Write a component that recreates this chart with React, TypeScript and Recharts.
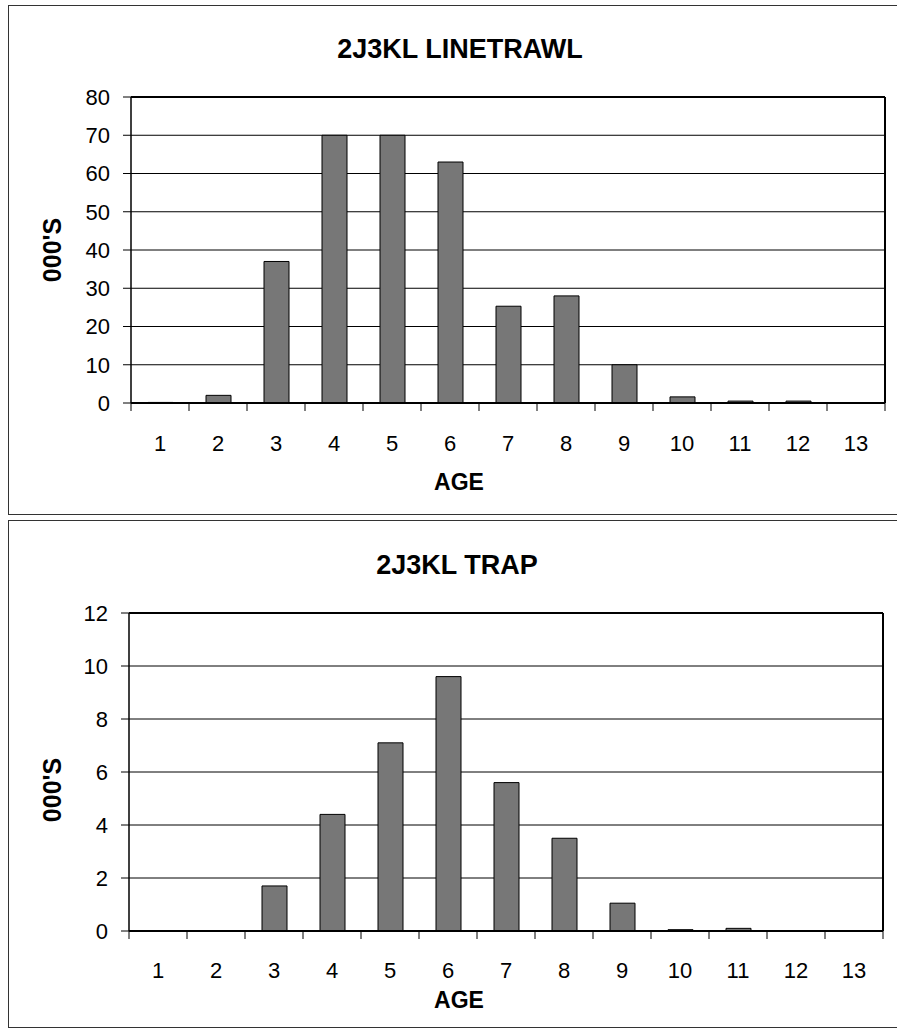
import React from "react";
import {
  BarChart,
  Bar,
  XAxis,
  YAxis,
  CartesianGrid,
  ReferenceLine,
} from "recharts";

const ages = ["1", "2", "3", "4", "5", "6", "7", "8", "9", "10", "11", "12", "13"];
const linetrawl = [0.15, 2, 37, 70, 70, 63, 25.3, 28, 10, 1.6, 0.5, 0.5, 0];
const trap = [0, 0, 1.7, 4.4, 7.1, 9.6, 5.6, 3.5, 1.05, 0.05, 0.1, 0, 0];
const linetrawlTicks = [0, 10, 20, 30, 40, 50, 60, 70, 80];
const trapTicks = [0, 2, 4, 6, 8, 10, 12];

const FONT = "'Liberation Sans', Arial, Helvetica, sans-serif";

const toRows = (values: number[]) =>
  ages.map((age, i) => ({ age, value: values[i] }));

// x ticks sit between the categories, labels under the centres
function AgeTick(props: any) {
  const { x, y, payload, labelGap } = props;
  const half = payload && payload.offset ? payload.offset : 29;
  const last = payload.value === ages[ages.length - 1];
  return (
    <g>
      <line x1={x - half} x2={x - half} y1={y} y2={y + 8} stroke="#000" strokeWidth={1} />
      {last && (
        <line x1={x + half} x2={x + half} y1={y} y2={y + 8} stroke="#000" strokeWidth={1} />
      )}
      <text
        x={x}
        y={y + labelGap}
        textAnchor="middle"
        dominantBaseline="central"
        fontFamily={FONT}
        fontSize={22}
        fill="#000"
      >
        {payload.value}
      </text>
    </g>
  );
}

type PanelProps = {
  title: string;
  values: number[];
  ticks: number[];
  top: number;
  height: number;
  marginTop: number;
  axisWidth: number;
  marginRight: number;
  xAxisHeight: number;
  marginBottom: number;
  labelGap: number;
  titleY: number;
  titleX: number;
  yLabelY: number;
  ageY: number;
};

function Panel(p: PanelProps) {
  const max = p.ticks[p.ticks.length - 1];
  return (
    <>
      <div
        style={{
          position: "absolute",
          left: p.titleX,
          top: p.titleY,
          transform: "translate(-50%, -50%)",
          fontFamily: FONT,
          fontWeight: "bold",
          fontSize: 27,
          whiteSpace: "nowrap",
        }}
      >
        {p.title}
      </div>
      <div
        style={{
          position: "absolute",
          left: 52,
          top: p.yLabelY,
          transform: "translate(-50%, -50%) rotate(-90deg)",
          fontFamily: FONT,
          fontWeight: "bold",
          fontSize: 25,
          whiteSpace: "nowrap",
        }}
      >
        000'S
      </div>
      <div
        style={{
          position: "absolute",
          left: 459,
          top: p.ageY,
          transform: "translate(-50%, -50%)",
          fontFamily: FONT,
          fontWeight: "bold",
          fontSize: 23,
        }}
      >
        AGE
      </div>
      <div style={{ position: "absolute", left: 0, top: p.top }}>
        <BarChart
          width={897}
          height={p.height}
          data={toRows(p.values)}
          barSize={25}
          margin={{ top: p.marginTop, right: p.marginRight, left: 0, bottom: p.marginBottom }}
        >
          <CartesianGrid vertical={false} stroke="#000" strokeWidth={1} />
          <XAxis
            dataKey="age"
            height={p.xAxisHeight}
            axisLine={{ stroke: "#000", strokeWidth: 2 }}
            tickLine={false}
            tickSize={0}
            tickMargin={0}
            interval={0}
            tick={<AgeTick labelGap={p.labelGap} />}
          />
          <YAxis
            width={p.axisWidth}
            domain={[0, max]}
            ticks={p.ticks}
            interval={0}
            axisLine={{ stroke: "#000", strokeWidth: 1.5 }}
            tickLine={{ stroke: "#000" }}
            tickSize={8}
            tickMargin={13}
            tick={{ fontFamily: FONT, fontSize: 22, fill: "#000" }}
          />
          <YAxis
            yAxisId="frame"
            orientation="right"
            width={1}
            tick={false}
            tickLine={false}
            axisLine={{ stroke: "#000", strokeWidth: 2 }}
          />
          <ReferenceLine y={max} stroke="#000" strokeWidth={2} />
          <Bar
            dataKey="value"
            fill="#777777"
            stroke="#000"
            strokeWidth={1}
            isAnimationActive={false}
          />
        </BarChart>
      </div>
    </>
  );
}

export default function App() {
  return (
    <div
      style={{
        position: "fixed",
        left: 0,
        top: 0,
        width: 897,
        height: 1031,
        background: "#fff",
        overflow: "hidden",
      }}
    >
      <div
        style={{
          position: "absolute",
          left: 8,
          top: 5,
          width: 900,
          height: 508,
          border: "1px solid #333",
        }}
      />
      <div
        style={{
          position: "absolute",
          left: 8,
          top: 520,
          width: 900,
          height: 506,
          border: "1px solid #333",
        }}
      />
      <Panel
        title="2J3KL LINETRAWL"
        values={linetrawl}
        ticks={linetrawlTicks}
        top={0}
        height={515}
        marginTop={97}
        axisWidth={131}
        marginRight={11}
        xAxisHeight={80}
        marginBottom={32}
        labelGap={40}
        titleX={460}
        titleY={49}
        yLabelY={250}
        ageY={482}
      />
      <Panel
        title="2J3KL TRAP"
        values={trap}
        ticks={trapTicks}
        top={515}
        height={516}
        marginTop={98}
        axisWidth={129}
        marginRight={13}
        xAxisHeight={70}
        marginBottom={30}
        labelGap={39}
        titleX={457}
        titleY={565}
        yLabelY={790}
        ageY={1000}
      />
    </div>
  );
}
